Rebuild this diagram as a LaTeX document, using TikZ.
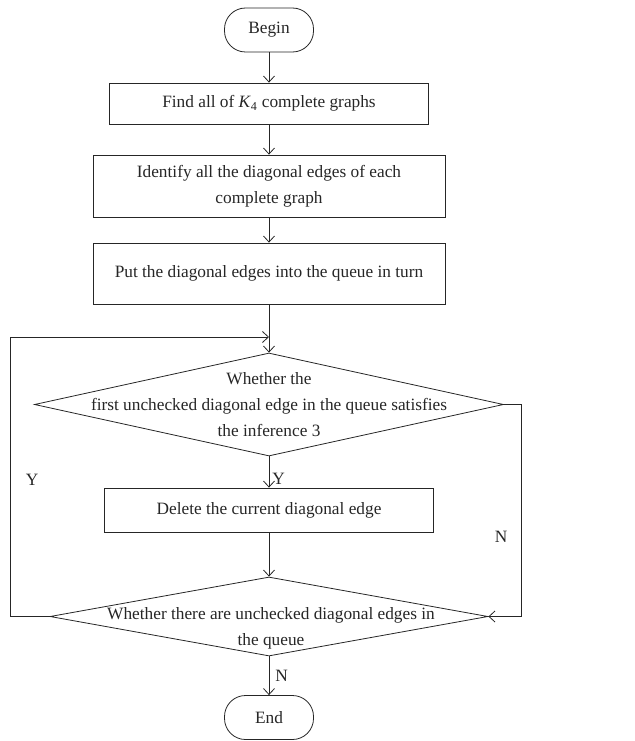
\documentclass[tikz,border=0pt]{standalone}
\usepackage{fontspec}
\setmainfont{Liberation Serif}
\usetikzlibrary{shapes.geometric,arrows.meta}

\begin{document}
\begin{tikzpicture}[x=1pt,y=-1pt,line width=0.8pt,draw=black!85,
  every node/.style={font=\fontsize{17.3}{26}\selectfont,text=black!85},
  proc/.style={draw,rectangle,align=center,inner sep=0pt},
  term/.style={draw,rectangle,rounded corners=21pt,minimum width=89pt,minimum height=44pt,inner sep=0pt},
  decision/.style={draw,diamond,inner sep=0pt},
  flow/.style={-{Straight Barb[length=6pt,width=11pt]}}]
  \useasboundingbox (0,0) rectangle (634,741);
  \node[term] (begin) at (269,30) {Begin};
  \node[proc,minimum width=319pt,minimum height=41pt] (find) at (269,103.5) {Find all of \textit{K}\textsubscript{4} complete graphs};
  \node[proc,minimum width=352pt,minimum height=62pt] (ident) at (269,186) {Identify all the diagonal edges of each\\complete graph};
  \node[proc,minimum width=352pt,minimum height=61pt] (queue) at (269,273.5) {Put the diagonal edges into the queue in turn};
  \coordinate (join) at (269,337);
  \node[decision,minimum width=469pt,minimum height=103pt] (check) at (269,404.5) {};
  \node[align=center] (checktxt) at (check) {Whether the\\first unchecked diagonal edge in the queue satisfies\\the inference 3};
  \node[proc,minimum width=329pt,minimum height=44pt] (delete) at (269,510) {Delete the current diagonal edge};
  \node[decision,minimum width=438pt,minimum height=79pt] (more) at (269,616.5) {};
  \node[align=center] (moretxt) at (271,628) {Whether there are unchecked diagonal edges in\\the queue};
  \node[term] (end) at (269,717.5) {End};
  \node (yloop) at (32,480) {Y};
  \node (nloop) at (501,537) {N};

  \draw[flow] (begin) -- (find);
  \draw[flow] (find) -- (ident);
  \draw[flow] (ident) -- (queue);
  \draw[flow] (queue) -- (check);
  \draw[flow] (check) -- node[pos=0.72,anchor=west,inner sep=3pt] (ylab) {Y} (delete);
  \draw[flow] (delete) -- (more);
  \draw[flow] (more) -- node[anchor=west,inner sep=6pt] (nlab) {N} (end);
  \draw[flow] (more.west) -- ++(-39,0) |- (join);
  \draw[flow] (check.east) -- ++(17,0) |- (more.east);
\end{tikzpicture}
\end{document}
